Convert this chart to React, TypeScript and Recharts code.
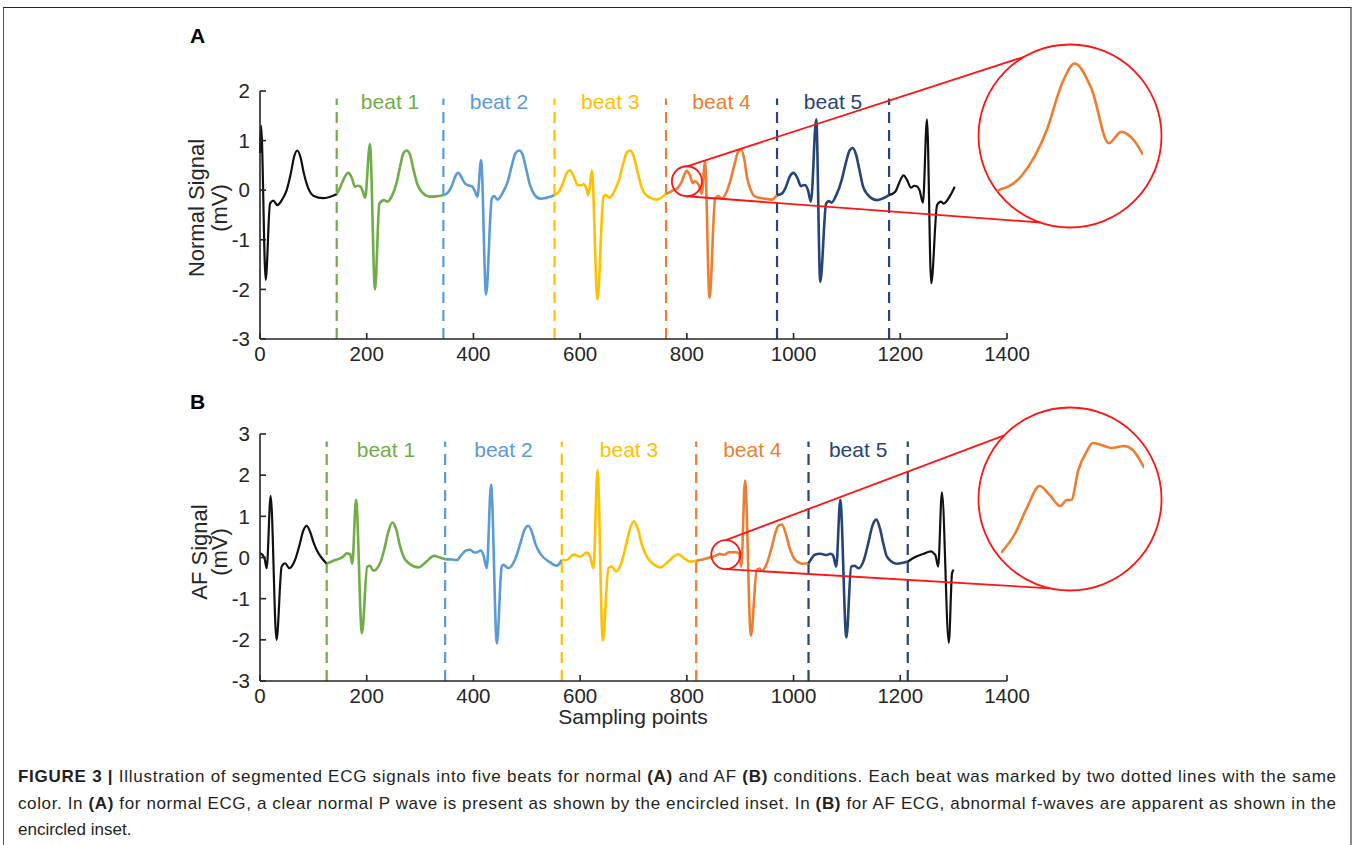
import { LineChart, Line, XAxis, YAxis, ReferenceLine, ReferenceDot } from 'recharts'

const xTicks = [0, 200, 400, 600, 800, 1000, 1200, 1400]
const beatNames = ['beat 1', 'beat 2', 'beat 3', 'beat 4', 'beat 5']
const beatColors = ['#70ad47', '#5b9bd5', '#ffc000', '#ed7d31', '#264478']
const boundColors = ['#70ad47', '#5b9bd5', '#ffc000', '#ed7d31', '#264478', '#264478']

// (A) normal ECG — [sampling point, mV]
const normalYTicks = [-3, -2, -1, 0, 1, 2]
const normalBounds = [143.75, 343.7, 552, 761, 969, 1179]
const normalLead = [
  [0, 0.75], [2, 1.3], [10.7, -1.81], [18.75, -0.27], [25, -0.21], [32.5, -0.3], [42, -0.18],
  [50, 0.0], [58, 0.35], [64, 0.68], [70, 0.8], [76, 0.66], [82, 0.35], [90, 0.05], [100, -0.11],
  [118, -0.16], [143.75, -0.08],
]
const normalBeat1 = [
  [143.75, -0.08], [150, 0.05], [158, 0.25], [165.6, 0.35], [172, 0.25], [178, 0.07], [183, 0.09],
  [187.5, 0.08], [192, 0.0], [197, -0.15], [206, 0.93], [215.6, -2.0], [223.7, -0.27], [232.5, -0.2],
  [238.7, -0.23], [248, -0.1], [256, 0.15], [263, 0.5], [269, 0.75], [275, 0.8], [281, 0.72],
  [288, 0.4], [295, 0.12], [302, -0.02], [318.7, -0.13], [343.7, -0.1],
]
const normalBeat2 = [
  [343.7, -0.1], [352, -0.05], [360, 0.1], [366, 0.28], [371.9, 0.35], [378, 0.25], [384, 0.14],
  [390, 0.1], [397, 0.08], [402, 0.0], [407.5, -0.13], [414.4, 0.61], [423.7, -2.1], [434.4, -0.17],
  [439, -0.12], [445, -0.19], [455, -0.05], [465, 0.2], [472, 0.5], [479, 0.75], [486, 0.8],
  [492, 0.72], [499, 0.42], [506, 0.1], [515, -0.1], [525, -0.17], [551.9, -0.1],
]
const normalBeat3 = [
  [551.9, -0.1], [560, -0.03], [568, 0.15], [575, 0.35], [581, 0.4], [588, 0.28], [595.6, 0.1],
  [601, 0.1], [607.5, 0.12], [611, 0.05], [615.6, -0.1], [622, 0.39], [632.5, -2.2], [643.7, -0.13],
  [648, -0.1], [655, -0.15], [665, 0.0], [674, 0.25], [681, 0.55], [688, 0.77], [693.7, 0.8],
  [700, 0.7], [707, 0.4], [714, 0.1], [722, -0.08], [743.7, -0.19], [761, -0.07],
]
const normalBeat4 = [
  [761, -0.07], [768, -0.04], [775, 0.0], [783, 0.046], [791, 0.185], [796, 0.33], [800, 0.39],
  [805.5, 0.31], [811, 0.145], [815, 0.18], [819.5, 0.149], [822, 0.11], [828, -0.07], [834, 0.57],
  [842.5, -2.17], [853, -0.17], [859, -0.12], [865.6, -0.17], [875, -0.02], [883, 0.25], [890, 0.55],
  [896, 0.77], [902, 0.81], [908, 0.6], [912.5, 0.27], [920, 0.0], [928, -0.13], [945, -0.17],
  [959, -0.19], [969, -0.1],
]
const normalBeat5 = [
  [969, -0.1], [978, -0.07], [985, 0.05], [993, 0.28], [1000, 0.35], [1007, 0.25], [1014, 0.08],
  [1018, 0.1], [1022, 0.1], [1027, 0.0], [1032.5, -0.23], [1042.5, 1.43], [1050, -1.85],
  [1061, -0.27], [1066, -0.22], [1071, -0.25], [1080, -0.1], [1090, 0.2], [1098, 0.55], [1105, 0.8],
  [1111, 0.85], [1117, 0.72], [1124, 0.38], [1130, 0.08], [1138, -0.08], [1156, -0.2], [1179, -0.1],
]
const normalTail = [
  [1179, -0.1], [1190.6, -0.03], [1198, 0.15], [1206, 0.3], [1213, 0.2], [1220, 0.05], [1226, 0.09],
  [1231, 0.08], [1236, 0.0], [1242.5, -0.25], [1250, 1.43], [1258, -1.88], [1269, -0.3],
  [1276, -0.23], [1281, -0.27], [1294, -0.1], [1302, 0.07],
]
const normalZoom = [775, 822]
const normalLens = [800, 0.18]

// (B) AF ECG — [sampling point, mV]
const afYTicks = [-3, -2, -1, 0, 1, 2, 3]
const afBounds = [125, 347, 565.6, 817.5, 1028, 1214]
const afLead = [
  [0, 0.1], [5, 0.06], [9, -0.05], [12.5, -0.26], [20, 1.5], [31, -2.0], [40.6, -0.22], [47, -0.14],
  [55, -0.26], [65.6, -0.06], [74, 0.3], [81, 0.65], [87.5, 0.77], [94, 0.62], [100, 0.38],
  [106, 0.19], [115, 0.0], [125, -0.15],
]
const afBeat1 = [
  [125, -0.15], [137.5, -0.08], [150, -0.02], [156, 0.02], [162.5, 0.1], [169, 0.08], [173, -0.15],
  [180, 1.4], [191, -1.84], [201, -0.22], [206, -0.2], [212.5, -0.32], [225, -0.14], [233, 0.2],
  [240, 0.6], [248, 0.85], [255, 0.7], [262, 0.3], [269, 0.02], [280, -0.15], [297, -0.24],
  [312, -0.1], [326, 0.04], [337, 0.0], [347, -0.04],
]
const afBeat2 = [
  [347, -0.04], [360, -0.05], [369, -0.06], [378, 0.07], [386, 0.17], [394, 0.19], [400, 0.13],
  [405, 0.12], [414, 0.17], [419, 0.05], [425, -0.26], [433, 1.77], [444, -2.09], [453, -0.22],
  [456, -0.18], [465.6, -0.26], [478, -0.05], [488, 0.35], [496, 0.68], [503, 0.77], [510, 0.6],
  [517, 0.3], [525, 0.1], [544, -0.12], [556, -0.2], [565.6, -0.06],
]
const afBeat3 = [
  [565.6, -0.06], [575, -0.06], [587.5, 0.07], [600, 0.02], [612.5, 0.12], [618, 0.05], [625, -0.26],
  [632.5, 2.12], [642.5, -2.02], [653, -0.26], [659, -0.22], [667.5, -0.34], [678, -0.1], [686, 0.3],
  [694, 0.72], [701, 0.88], [708, 0.7], [716, 0.3], [725, 0.02], [737, -0.16], [750, -0.24],
  [765, -0.1], [776, 0.03], [784, 0.08], [795, -0.02], [806, -0.1], [817.5, -0.08],
]
const afBeat4 = [
  [817.5, -0.08], [830, -0.05], [840, -0.01], [848, 0.02], [853, 0.04], [857, 0.065], [861.5, 0.087],
  [865, 0.078], [868.7, 0.067], [871, 0.073], [872.5, 0.073], [875, 0.103], [878, 0.122], [880, 0.13],
  [883, 0.128], [886.5, 0.125], [891, 0.127], [894, 0.123], [898, 0.105], [902, -0.22], [909, 1.87],
  [920, -1.9], [931, -0.3], [936, -0.27], [941, -0.32], [950, -0.14], [958, 0.2], [966, 0.6],
  [972, 0.78], [978, 0.8], [985, 0.6], [992, 0.25], [1003, -0.06], [1016, -0.15], [1028, -0.14],
]
const afBeat5 = [
  [1028, -0.14], [1034, -0.02], [1039, 0.06], [1050, 0.09], [1062.5, 0.06], [1069, 0.09], [1074, 0.05],
  [1080, -0.22], [1087.5, 1.4], [1099, -1.94], [1108, -0.22], [1114, -0.2], [1122, -0.26],
  [1132, -0.05], [1140, 0.35], [1148, 0.78], [1155, 0.92], [1162, 0.7], [1168, 0.35], [1175, 0.02],
  [1194, -0.15], [1214, -0.1],
]
const afTail = [
  [1214, -0.1], [1222, -0.03], [1231, 0.03], [1244, 0.09], [1257.5, 0.15], [1263, 0.1], [1266, 0.05],
  [1271, -0.22], [1278, 1.58], [1291, -2.07], [1297, -0.38], [1300, -0.3],
]
const afZoom = [848, 898]
const afLens = [873, 0.07]

const ink = '#262626'
const font = "'Liberation Sans', Arial, Helvetica, sans-serif"
const red = '#ff1414'

const toPts = (rows: number[][]) => rows.map(([x, y]) => ({ x, y }))
const rad = (d: number) => (d * Math.PI) / 180

function Lens({ cx, cy, small, big }: any) {
  const up = [big.cx + big.r * Math.cos(rad(big.up)), big.cy + big.r * Math.sin(rad(big.up))]
  const down = [big.cx + big.r * Math.cos(rad(big.down)), big.cy + big.r * Math.sin(rad(big.down))]
  return (
    <g fill="none" stroke={red} strokeWidth={1.8}>
      <circle cx={cx} cy={cy} r={small} />
      <line x1={cx} y1={cy - small} x2={up[0]} y2={up[1]} />
      <line x1={cx} y1={cy + small} x2={down[0]} y2={down[1]} />
      <circle cx={big.cx} cy={big.cy} r={big.r} />
    </g>
  )
}

function Panel({ spec }: any) {
  const { top, height, margin, yDomain, yTicks, lead, beats, tail, bounds, dashTop, labelY, lens, small, big } = spec
  const segs = [
    { rows: lead, color: '#111111', w: 2.2 },
    ...beats.map((rows: number[][], i: number) => ({ rows, color: beatColors[i], w: 2.6 })),
    { rows: tail, color: '#111111', w: 2.2 },
  ]
  const tickStyle = { fill: ink, fontSize: 20.5, fontFamily: font }
  return (
    <div style={{ position: 'absolute', left: 0, top }}>
      <LineChart width={1357} height={height} margin={margin}>
        <XAxis
          type="number"
          dataKey="x"
          domain={[0, 1400]}
          ticks={xTicks}
          interval={0}
          height={30}
          tickSize={-6}
          tickMargin={13}
          stroke={ink}
          axisLine={{ stroke: ink, strokeWidth: 1.6 }}
          tickLine={{ stroke: ink, strokeWidth: 1.6 }}
          tick={tickStyle}
        />
        <YAxis
          type="number"
          domain={yDomain}
          ticks={yTicks}
          interval={0}
          width={260}
          tickSize={-6}
          tickMargin={16}
          stroke={ink}
          axisLine={{ stroke: ink, strokeWidth: 1.6 }}
          tickLine={{ stroke: ink, strokeWidth: 1.6 }}
          tick={tickStyle}
        />
        {bounds.map((b: number, i: number) => (
          <ReferenceLine
            key={'b' + i}
            segment={[{ x: b, y: yDomain[0] }, { x: b, y: dashTop }]}
            stroke={boundColors[i]}
            strokeWidth={2.2}
            strokeDasharray="11 7"
          />
        ))}
        {segs.map((s, i) => (
          <Line
            key={'s' + i}
            data={toPts(s.rows)}
            dataKey="y"
            type="monotone"
            stroke={s.color}
            strokeWidth={s.w}
            dot={false}
            activeDot={false}
            isAnimationActive={false}
          />
        ))}
        {beatNames.map((n, i) => (
          <ReferenceDot
            key={n}
            x={(bounds[i] + bounds[i + 1]) / 2}
            y={labelY}
            r={0}
            ifOverflow="visible"
            shape={(p: any) => (
              <text x={p.cx} y={p.cy} textAnchor="middle" fill={beatColors[i]} fontSize={21} fontFamily={font}>
                {n}
              </text>
            )}
          />
        ))}
        <ReferenceDot
          x={lens[0]}
          y={lens[1]}
          r={0}
          ifOverflow="visible"
          shape={(p: any) => <Lens cx={p.cx} cy={p.cy} small={small} big={big} />}
        />
      </LineChart>
    </div>
  )
}

function Inset({ rows, range, yDomain, box }: any) {
  const data = toPts(rows.filter(([x]: number[]) => x >= range[0] && x <= range[1]))
  return (
    <div style={{ position: 'absolute', left: box.left, top: box.top }}>
      <LineChart width={box.width} height={box.height} margin={{ top: 0, right: 0, bottom: 0, left: 0 }}>
        <XAxis hide type="number" dataKey="x" domain={range} />
        <YAxis hide type="number" domain={yDomain} />
        <Line
          data={data}
          dataKey="y"
          type="monotone"
          stroke="#ed7d31"
          strokeWidth={2.6}
          dot={false}
          activeDot={false}
          isAnimationActive={false}
        />
      </LineChart>
    </div>
  )
}

const specA = {
  top: 0,
  height: 380,
  margin: { top: 91, right: 350, bottom: 11, left: 0 },
  yDomain: [-3, 2],
  yTicks: normalYTicks,
  lead: normalLead,
  beats: [normalBeat1, normalBeat2, normalBeat3, normalBeat4, normalBeat5],
  tail: normalTail,
  bounds: normalBounds,
  dashTop: 1.85,
  labelY: 1.63,
  lens: normalLens,
  small: 15,
  big: { cx: 1070, cy: 136, r: 91.5, up: -120, down: 109 },
}

const specB = {
  top: 400,
  height: 330,
  margin: { top: 34, right: 350, bottom: 19, left: 0 },
  yDomain: [-3, 3],
  yTicks: afYTicks,
  lead: afLead,
  beats: [afBeat1, afBeat2, afBeat3, afBeat4, afBeat5],
  tail: afTail,
  bounds: afBounds,
  dashTop: 2.82,
  labelY: 2.43,
  lens: afLens,
  small: 14.5,
  big: { cx: 1070, cy: 99, r: 91.5, up: -136, down: 102.6 },
}

const caption: [string, boolean][][] = [
  [
    ['FIGURE 3 | ', true],
    ['Illustration of segmented ECG signals into five beats for normal ', false],
    ['(A)', true],
    [' and AF ', false],
    ['(B)', true],
    [' conditions. Each beat was marked by two dotted lines with the same', false],
  ],
  [
    ['color. In ', false],
    ['(A)', true],
    [' for normal ECG, a clear normal P wave is present as shown by the encircled inset. In ', false],
    ['(B)', true],
    [' for AF ECG, abnormal f-waves are apparent as shown in the', false],
  ],
  [['encircled inset.', false]],
]

export default function App() {
  const title = { fill: ink, fontSize: 22, fontFamily: font }
  return (
    <div style={{ position: 'absolute', left: 0, top: 0, width: 1357, height: 845, overflow: 'hidden', background: '#fff' }}>
      <div
        style={{
          position: 'absolute',
          left: 3,
          top: 7,
          width: 1346,
          height: 900,
          borderTop: '1.5px solid #222',
          borderLeft: '1px solid #555',
          borderRight: '2px solid #8a8a8a',
        }}
      />
      <Panel spec={specA} />
      <Panel spec={specB} />
      <Inset rows={normalBeat4} range={normalZoom} yDomain={[-0.05, 0.45]} box={{ left: 997, top: 43.5, width: 146, height: 162.8 }} />
      <Inset rows={afBeat4} range={afZoom} yDomain={[0, 0.15]} box={{ left: 1000.7, top: 423.3, width: 143.3, height: 150 }} />
      <svg width={1357} height={845} style={{ position: 'absolute', left: 0, top: 0, pointerEvents: 'none' }}>
        <text x={190} y={43} fontSize={21} fontWeight="bold" fontFamily={font} fill="#000">A</text>
        <text x={190} y={409} fontSize={21} fontWeight="bold" fontFamily={font} fill="#000">B</text>
        <text transform="translate(204 208) rotate(-90)" textAnchor="middle" {...title}>Normal Signal</text>
        <text transform="translate(227 208) rotate(-90)" textAnchor="middle" {...title}>(mV)</text>
        <text transform="translate(207 552) rotate(-90)" textAnchor="middle" {...title}>AF Signal</text>
        <text transform="translate(227 552) rotate(-90)" textAnchor="middle" {...title}>(mV)</text>
        <text x={633} y={724} textAnchor="middle" fill={ink} fontSize={21} fontFamily={font}>Sampling points</text>
        {caption.map((line, i) => (
          <text
            key={i}
            x={18}
            y={782 + i * 26.5}
            fontSize={17}
            fontFamily={font}
            fill="#231f20"
            textLength={i < 2 ? 1318 : undefined}
          >
            {line.map(([t, b], j) => (
              <tspan key={j} fontWeight={b ? 'bold' : 'normal'}>{t}</tspan>
            ))}
          </text>
        ))}
      </svg>
    </div>
  )
}
